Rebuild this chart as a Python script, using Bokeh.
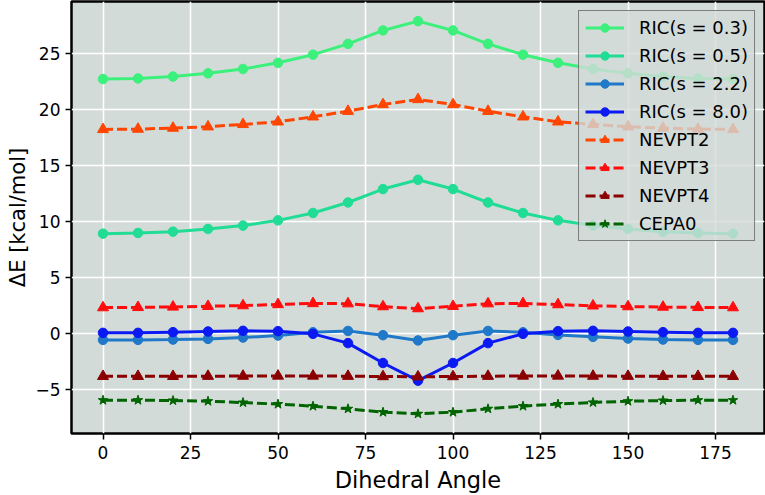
from bokeh.plotting import figure
from bokeh.models import Range1d, FixedTicker, Legend
from bokeh.embed import file_html
from bokeh.resources import INLINE

angles = [0, 10, 20, 30, 40, 50, 60, 70, 80, 90, 100, 110, 120, 130, 140, 150, 160, 170, 180]

ric_s03 = [22.75, 22.8, 22.97, 23.26, 23.65, 24.2, 24.93, 25.9, 27.1, 27.93,
           27.1, 25.9, 24.93, 24.2, 23.65, 23.26, 22.97, 22.8, 22.75]
ric_s05 = [8.91, 8.97, 9.09, 9.33, 9.63, 10.1, 10.76, 11.7, 12.9, 13.73,
           12.9, 11.7, 10.76, 10.1, 9.63, 9.33, 9.09, 8.97, 8.91]
ric_s22 = [-0.6, -0.6, -0.57, -0.51, -0.39, -0.21, 0.08, 0.2, -0.18, -0.65,
           -0.18, 0.2, 0.08, -0.16, -0.33, -0.48, -0.57, -0.6, -0.6]
ric_s80 = [0.03, 0.03, 0.09, 0.15, 0.21, 0.18, -0.06, -0.89, -2.67, -4.25,
           -2.67, -0.89, -0.06, 0.18, 0.21, 0.15, 0.09, 0.03, 0.03]
nevpt2 = [18.24, 18.27, 18.36, 18.48, 18.69, 18.92, 19.37, 19.87, 20.47, 20.92,
          20.47, 19.87, 19.37, 18.92, 18.69, 18.48, 18.36, 18.27, 18.24]
nevpt3 = [2.29, 2.31, 2.35, 2.41, 2.47, 2.57, 2.66, 2.64, 2.38, 2.2,
          2.41, 2.64, 2.66, 2.56, 2.45, 2.38, 2.34, 2.31, 2.29]
nevpt4 = [-3.86, -3.86, -3.86, -3.85, -3.84, -3.83, -3.83, -3.85, -3.88, -3.9,
          -3.88, -3.85, -3.83, -3.83, -3.84, -3.85, -3.86, -3.86, -3.86]
cepa0 = [-6.0, -6.0, -6.03, -6.09, -6.21, -6.35, -6.53, -6.77, -7.07, -7.22,
         -7.07, -6.77, -6.53, -6.35, -6.2, -6.09, -6.03, -6.0, -6.0]

x_ticks = [0, 25, 50, 75, 100, 125, 150, 175]
y_ticks = [-5, 0, 5, 10, 15, 20, 25]

series = [
    ("RIC(s = 0.3)", ric_s03, "#3cf07c", "solid", "circle", 9.5),
    ("RIC(s = 0.5)", ric_s05, "#20dc94", "solid", "circle", 9.5),
    ("RIC(s = 2.2)", ric_s22, "#1f78c8", "solid", "circle", 9.5),
    ("RIC(s = 8.0)", ric_s80, "#0b19f2", "solid", "circle", 9.5),
    ("NEVPT2", nevpt2, "#ff4500", "10 4", "triangle", 11),
    ("NEVPT3", nevpt3, "#ff0d0d", "10 4", "triangle", 11),
    ("NEVPT4", nevpt4, "#8b0000", "10 4", "triangle", 11),
    ("CEPA0", cepa0, "#006400", "10 4", "star", 10),
]

p = figure(width=765, height=495, output_backend="svg", toolbar_location=None,
           x_range=Range1d(-9, 189), y_range=Range1d(-8.98, 29.69),
           min_border_left=71, min_border_right=1, min_border_top=1, min_border_bottom=61)

p.background_fill_color = "#d3dbd8"
p.border_fill_color = "white"
p.outline_line_color = "black"
p.outline_line_width = 2.5

p.xgrid.grid_line_color = "white"
p.ygrid.grid_line_color = "white"
p.xgrid.grid_line_width = 1.6
p.ygrid.grid_line_width = 1.6

p.xaxis.ticker = FixedTicker(ticks=x_ticks)
p.yaxis.ticker = FixedTicker(ticks=y_ticks)

for ax in (p.xaxis[0], p.yaxis[0]):
    ax.axis_line_color = None
    ax.major_tick_line_color = "black"
    ax.major_tick_line_width = 1.5
    ax.major_tick_out = 6
    ax.major_tick_in = 0
    ax.minor_tick_line_color = None
    ax.major_label_text_font = "DejaVu Sans"
    ax.major_label_text_font_size = "17px"
    ax.major_label_text_color = "black"
    ax.axis_label_text_font = "DejaVu Sans"
    ax.axis_label_text_font_size = "21px"
    ax.axis_label_text_font_style = "normal"
    ax.axis_label_text_color = "black"

p.xaxis.major_label_standoff = 6
p.yaxis.major_label_standoff = 5
p.xaxis.axis_label = "Dihedral Angle"
p.yaxis.axis_label = "ΔE [kcal/mol]"
p.xaxis.axis_label_text_font_size = "22.5px"
p.xaxis.axis_label_standoff = 5
p.yaxis.axis_label_standoff = 2

items = []
for label, ys, color, dash, marker, size in series:
    r1 = p.line(angles, ys, line_color=color, line_width=3, line_dash=dash)
    r2 = p.scatter(angles, ys, marker=marker, size=size, fill_color=color, line_color=color)
    items.append((label, [r1, r2]))

legend = Legend(items=items, location="top_right")
legend.background_fill_color = "#d3dbd8"
legend.background_fill_alpha = 0.8
legend.border_line_color = "#222222"
legend.border_line_width = 1.2
legend.label_text_font = "DejaVu Sans"
legend.label_text_font_size = "18px"
legend.label_text_color = "black"
legend.glyph_width = 39
legend.glyph_height = 21
legend.label_height = 21
legend.label_standoff = 15
legend.spacing = 7
legend.padding = 6
legend.margin = 9
p.add_layout(legend)

open("out.html", "w").write(file_html(p, INLINE))
